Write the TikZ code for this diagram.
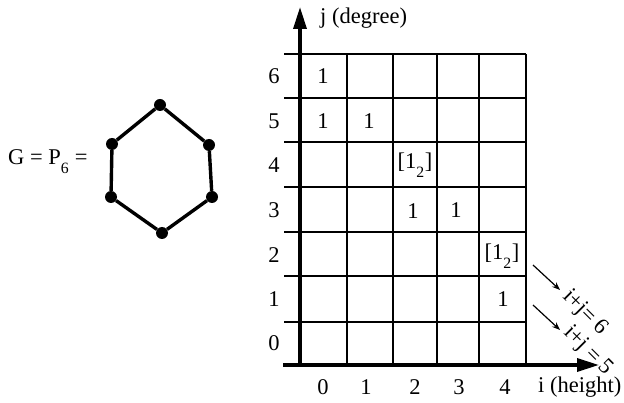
\documentclass[tikz,border=0pt]{standalone}
\usepackage{fontspec}
\setmainfont{Liberation Serif}
\usetikzlibrary{arrows.meta}
\begin{document}
\begin{tikzpicture}[x=1pt,y=-1pt,
  txt/.style={font=\fontsize{22.5}{26}\selectfont, inner sep=0pt},
  gridline/.style={line width=1.7pt},
  axisline/.style={line width=3.3pt},
  vert/.style={circle, fill=black, inner sep=0pt, minimum size=12pt},
  edge/.style={line width=3.4pt},
  small/.style={line width=1.2pt, -{Stealth[length=8pt,width=6pt]}}]
\useasboundingbox (0,0) rectangle (624,403);
% hexagon
\node[vert] (v1) at (160,105) {};
\node[vert] (v2) at (209,145) {};
\node[vert] (v3) at (212,197) {};
\node[vert] (v4) at (162,233) {};
\node[vert] (v5) at (111,197) {};
\node[vert] (v6) at (112,144) {};
\draw[edge] (v1) -- (v2) -- (v3) -- (v4) -- (v5) -- (v6) -- (v1);
\node[txt, anchor=west] (g) at (8,162) {G = P\textsubscript{\raisebox{-6pt}{6}} =};
% grid
\foreach \y in {54,98,142,187,232,276,322} \draw[gridline] (284,\y) -- (526,\y);
\foreach \x in {347,393,437,479,526} \draw[gridline] (\x,54) -- (\x,365);
% axes
\coordinate (o) at (300,366);
\coordinate (ytip) at (300,7);
\coordinate (xs) at (283,365);
\coordinate (xtip) at (599,365);
\draw[axisline, -{Triangle[length=22pt,width=13pt]}] (o) -- (ytip);
\draw[axisline, -{Triangle[length=22pt,width=13pt]}] (xs) -- (xtip);
\node[txt, anchor=west] (jl) at (320,18) {j (degree)};
\node[txt, anchor=west] (il) at (538,387) {i (height)};
% row labels
\foreach \t/\y in {6/76,5/121,4/165,3/210,2/255,1/299,0/343}
  \node[txt] (r\t) at (274,\y) {\t};
\foreach \t/\x in {0/323,1/366,2/415,3/459,4/505}
  \node[txt] (c\t) at (\x,387) {\t};
% entries
\node[txt] (e06) at (323,76) {1};
\node[txt] (e05) at (323,121) {1};
\node[txt] (e15) at (369,121) {1};
\node[txt] (e24) at (415,165) {[1\textsubscript{\raisebox{-6pt}{2}}]};
\node[txt] (e23) at (413,211) {1};
\node[txt] (e33) at (456,210) {1};
\node[txt] (e42) at (502,256) {[1\textsubscript{\raisebox{-6pt}{2}}]};
\node[txt] (e41) at (503,299) {1};
% diagonal arrows
\coordinate (a1s) at (533,265);
\coordinate (a1e) at (560,290);
\coordinate (a2s) at (533,305);
\coordinate (a2e) at (560,330);
\draw[small] (a1s) -- (a1e);
\draw[small] (a2s) -- (a2e);
\node[txt, rotate=-45] (d6) at (585,313) {i+j= 6};
\node[txt, rotate=-45] (d5) at (588,351) {i+j = 5};
\end{tikzpicture}
\end{document}
